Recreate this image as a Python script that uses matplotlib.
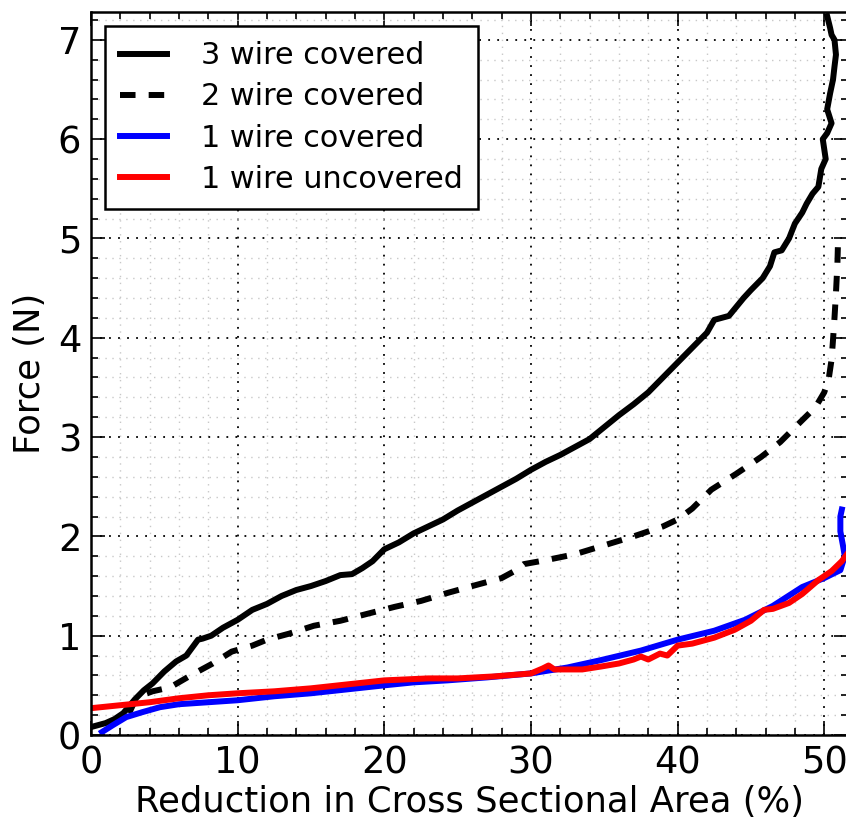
import matplotlib
matplotlib.use("Agg")
import matplotlib.pyplot as plt
from matplotlib.ticker import MultipleLocator

# 3 wire covered (solid black)
x3 = [0.0, 0.5, 1.0, 1.6, 2.2, 3.0, 3.6, 4.2, 5.0, 5.8, 6.5, 7.0, 7.3, 7.6, 8.2, 9.0, 10.0, 11.0,
      12.0, 13.0, 14.0, 15.0, 16.0, 17.0, 17.8, 18.5, 19.2, 20.0, 21.0, 22.0, 23.0, 24.0, 25.0,
      26.0, 27.0, 28.0, 29.0, 30.0, 31.0, 32.0, 33.0, 34.0, 35.0, 36.0, 37.0, 38.0, 39.0, 40.0,
      41.0, 42.0, 42.5, 43.5, 44.5, 45.0, 45.8, 46.3, 46.6, 47.1, 47.6, 48.0, 48.5, 48.8, 49.2,
      49.6, 49.8, 50.1, 49.9, 50.2, 50.5, 50.2, 50.4, 50.6, 50.7, 50.8, 50.7, 50.5, 50.4, 50.3, 50.2]
y3 = [0.08, 0.10, 0.12, 0.16, 0.22, 0.36, 0.45, 0.52, 0.64, 0.74, 0.80, 0.90, 0.96, 0.97, 1.00,
      1.08, 1.16, 1.26, 1.32, 1.40, 1.46, 1.50, 1.55, 1.61, 1.62, 1.68, 1.75, 1.87, 1.94, 2.03,
      2.10, 2.17, 2.26, 2.34, 2.42, 2.50, 2.58, 2.67, 2.75, 2.82, 2.90, 2.98, 3.10, 3.22, 3.33,
      3.45, 3.60, 3.75, 3.90, 4.05, 4.18, 4.22, 4.40, 4.48, 4.60, 4.72, 4.86, 4.88, 5.00, 5.15,
      5.26, 5.35, 5.45, 5.52, 5.70, 5.80, 6.00, 6.06, 6.16, 6.30, 6.46, 6.60, 6.73, 6.85, 7.00,
      7.05, 7.12, 7.18, 7.24]

# 2 wire covered (dashed black)
x2 = [2.6, 3.1, 4.2, 5.4, 6.8, 8.3, 9.6, 11.0, 12.0, 13.5, 15.2, 17.0, 19.1, 20.7, 22.5, 24.3,
      26.0, 28.0, 29.0, 29.5, 31.0, 33.0, 35.0, 37.0, 39.0, 40.0, 41.0, 42.3, 44.0, 45.7, 47.0,
      48.5, 49.4, 50.0, 50.3, 50.5, 50.6, 50.7, 50.8, 50.9, 50.95]
y2 = [0.22, 0.38, 0.44, 0.48, 0.60, 0.72, 0.84, 0.90, 0.96, 1.02, 1.10, 1.15, 1.23, 1.29, 1.35,
      1.43, 1.50, 1.58, 1.66, 1.72, 1.76, 1.82, 1.91, 2.00, 2.10, 2.17, 2.28, 2.47, 2.63, 2.80,
      2.95, 3.17, 3.30, 3.45, 3.58, 3.78, 3.98, 4.20, 4.45, 4.75, 5.02]

# 1 wire covered (blue)
x1c = [0.75, 1.5, 2.4, 3.5, 4.7, 6.0, 8.0, 10.0, 12.5, 15.0, 17.5, 20.0, 22.0, 24.3, 27.0,
       30.0, 32.5, 34.8, 37.5, 40.0, 42.5, 44.6, 46.5, 48.5, 50.0, 51.1, 51.4, 51.3, 51.1, 51.1, 51.2]
y1c = [0.03, 0.10, 0.18, 0.23, 0.28, 0.31, 0.33, 0.35, 0.39, 0.42, 0.46, 0.50, 0.53, 0.55, 0.58,
       0.62, 0.68, 0.755, 0.85, 0.96, 1.05, 1.16, 1.30, 1.49, 1.58, 1.66, 1.80, 1.89, 2.05, 2.20, 2.27]

# 1 wire uncovered (red)
x1u = [0.0, 2.0, 4.0, 6.0, 8.0, 10.0, 12.5, 15.0, 17.5, 20.0, 23.0, 25.0, 27.5, 30.0, 30.8,
       31.2, 31.6, 32.5, 33.5, 34.8, 36.0, 37.0, 37.5, 38.0, 38.8, 39.3, 40.0, 41.0, 42.5, 43.9,
       45.0, 45.9, 46.5, 47.6, 48.5, 49.6, 50.5, 51.2, 51.6]
y1u = [0.27, 0.30, 0.33, 0.37, 0.40, 0.42, 0.44, 0.47, 0.51, 0.55, 0.57, 0.57, 0.59, 0.62, 0.67,
       0.70, 0.66, 0.66, 0.66, 0.69, 0.72, 0.76, 0.79, 0.76, 0.82, 0.80, 0.90, 0.92, 0.98, 1.06,
       1.15, 1.26, 1.27, 1.33, 1.42, 1.56, 1.65, 1.75, 1.83]

labels = ["3 wire covered", "2 wire covered", "1 wire covered", "1 wire uncovered"]

fig = plt.figure(figsize=(8.46, 8.22), dpi=100)
ax = fig.add_axes([91/846, 87/822, 1 - 91/846 + 0.002, (735-12)/822])

lw = 4.3
ax.plot(x3, y3, color="black", lw=lw, label=labels[0], solid_joinstyle="round")
ax.plot(x2, y2, color="black", lw=lw, ls=(0, (2.6, 2.2)), label=labels[1])
ax.plot(x1c, y1c, color="blue", lw=lw, label=labels[2])
ax.plot(x1u, y1u, color="red", lw=lw, label=labels[3])

ax.set_xlim(0, 51.6)
ax.set_ylim(0, 7.28)
ax.xaxis.set_major_locator(MultipleLocator(10))
ax.xaxis.set_minor_locator(MultipleLocator(2))
ax.yaxis.set_major_locator(MultipleLocator(1))
ax.yaxis.set_minor_locator(MultipleLocator(0.2))

ax.grid(which="major", color="black", ls=(0, (1, 4)), lw=1.3)
ax.grid(which="minor", color="#c8c8c8", ls=(0, (1, 4)), lw=1.0)
ax.set_axisbelow(True)

ax.tick_params(which="both", direction="in", top=True, right=True, labelsize=26.5, width=1.2)
ax.tick_params(which="major", length=10, pad=7)
ax.tick_params(which="minor", length=5)
for s in ax.spines.values():
    s.set_linewidth(1.8)

ax.set_xlabel("Reduction in Cross Sectional Area (%)", fontsize=25.5, labelpad=2)
ax.set_ylabel("Force (N)", fontsize=25.5, labelpad=8)

leg = ax.legend(loc="upper left", fontsize=21.8, fancybox=False, edgecolor="black",
                framealpha=1, handlelength=1.55, borderaxespad=0.47, handletextpad=1.1,
                borderpad=0.5, labelspacing=0.4)
leg.get_frame().set_linewidth(1.8)

fig.savefig("out.png", dpi=100)
